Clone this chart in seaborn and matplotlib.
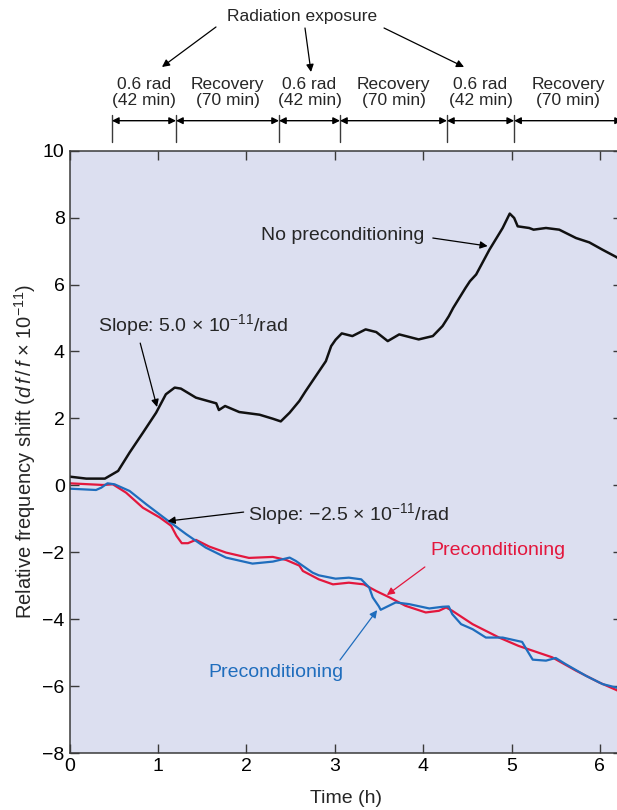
import numpy as np
import pandas as pd
import matplotlib
matplotlib.use("Agg")
import matplotlib.pyplot as plt
import matplotlib.transforms as mtransforms
import seaborn as sns

# ---------------- data ----------------
no_pre_t = [0.00, 0.19, 0.40, 0.55, 0.68, 0.83, 0.98, 1.09, 1.19, 1.26, 1.43, 1.66, 1.69,
            1.76, 1.92, 2.15, 2.30, 2.39, 2.49, 2.60, 2.67, 2.90, 2.96, 3.01, 3.08, 3.20,
            3.35, 3.47, 3.60, 3.73, 3.95, 4.11, 4.22, 4.29, 4.34, 4.48, 4.53, 4.60, 4.75,
            4.90, 4.98, 5.03, 5.07, 5.20, 5.25, 5.39, 5.54, 5.73, 5.88, 6.03, 6.18, 6.25]
no_pre_v = [0.26, 0.20, 0.20, 0.43, 0.98, 1.57, 2.17, 2.72, 2.92, 2.89, 2.62, 2.45, 2.25,
            2.37, 2.19, 2.11, 1.99, 1.91, 2.17, 2.52, 2.81, 3.71, 4.16, 4.35, 4.54, 4.46,
            4.66, 4.58, 4.31, 4.51, 4.36, 4.46, 4.76, 5.05, 5.30, 5.90, 6.10, 6.30, 7.04,
            7.69, 8.12, 7.99, 7.74, 7.69, 7.64, 7.69, 7.64, 7.39, 7.26, 7.04, 6.83, 6.72]

red_t = [0.00, 0.38, 0.49, 0.64, 0.83, 1.02, 1.15, 1.21, 1.27, 1.34, 1.43, 1.58, 1.77,
         2.03, 2.30, 2.45, 2.60, 2.64, 2.82, 2.98, 3.16, 3.33, 3.47, 3.62, 3.80, 4.03,
         4.18, 4.26, 4.33, 4.56, 4.86, 5.08, 5.46, 5.73, 5.99, 6.18, 6.25]
red_v = [0.06, 0.01, 0.03, -0.22, -0.67, -0.96, -1.21, -1.51, -1.73, -1.73, -1.63, -1.83, -2.01,
         -2.17, -2.14, -2.23, -2.40, -2.56, -2.81, -2.96, -2.91, -2.96, -3.16, -3.35, -3.60, -3.80,
         -3.75, -3.65, -3.75, -4.15, -4.55, -4.80, -5.14, -5.54, -5.89, -6.11, -6.20]

blue_t = [0.00, 0.30, 0.36, 0.43, 0.51, 0.68, 0.87, 1.09, 1.32, 1.54, 1.77, 2.07, 2.30,
          2.49, 2.56, 2.75, 2.82, 3.01, 3.16, 3.30, 3.39, 3.43, 3.50, 3.52, 3.69, 3.84,
          4.07, 4.22, 4.29, 4.33, 4.43, 4.56, 4.71, 4.90, 5.12, 5.18, 5.24, 5.39, 5.50,
          5.61, 5.84, 6.03, 6.18, 6.25]
blue_v = [-0.10, -0.14, -0.07, 0.06, 0.03, -0.17, -0.57, -1.01, -1.46, -1.86, -2.16, -2.34, -2.28,
          -2.16, -2.26, -2.61, -2.69, -2.79, -2.76, -2.81, -3.05, -3.35, -3.62, -3.72, -3.50, -3.55,
          -3.68, -3.63, -3.62, -3.85, -4.15, -4.30, -4.55, -4.55, -4.68, -4.95, -5.21, -5.24, -5.16,
          -5.34, -5.69, -5.94, -6.04, -6.10]

phase_bounds = [0.48, 1.205, 2.37, 3.06, 4.27, 5.03, 6.25]
phase_labels = ["0.6 rad\n(42 min)", "Recovery\n(70 min)", "0.6 rad\n(42 min)",
                "Recovery\n(70 min)", "0.6 rad\n(42 min)", "Recovery\n(70 min)"]
x_ticks = [0, 1, 2, 3, 4, 5, 6]
y_ticks = [-8, -6, -4, -2, 0, 2, 4, 6, 8, 10]

BLACK = "#111111"
RED = "#e3173d"
BLUE = "#1f6dbd"
BG = "#dcdff0"
AX = "#3a3a3a"

# ---------------- style ----------------
sns.set_theme(style="ticks")
plt.rcParams["font.family"] = ["Liberation Sans", "DejaVu Sans"]
plt.rcParams["mathtext.fontset"] = "custom"
plt.rcParams["mathtext.rm"] = "Liberation Sans"
plt.rcParams["mathtext.it"] = "Liberation Sans:italic"
plt.rcParams["mathtext.bf"] = "Liberation Sans:bold"
plt.rcParams["axes.unicode_minus"] = True

fig = plt.figure(figsize=(6.17, 8.10), dpi=100)
ax = fig.add_axes([69.5 / 617, 57 / 810, (622 - 69.5) / 617, (753 - 150.7) / 810])
ax.set_facecolor(BG)

df = pd.concat([
    pd.DataFrame({"t": no_pre_t, "v": no_pre_v, "s": "none"}),
    pd.DataFrame({"t": red_t, "v": red_v, "s": "red"}),
    pd.DataFrame({"t": blue_t, "v": blue_v, "s": "blue"}),
], ignore_index=True)

sns.lineplot(data=df, x="t", y="v", hue="s", palette={"none": BLACK, "red": RED, "blue": BLUE},
             estimator=None, sort=False, linewidth=1.6, legend=False, ax=ax)
for ln in ax.get_lines():
    ln.set_solid_joinstyle("round")
    ln.set_solid_capstyle("round")
    if ln.get_color() == BLACK:
        ln.set_linewidth(1.8)

ax.set_xlim(0, 6.25)
ax.set_ylim(-8, 10)
ax.set_xticks(x_ticks)
ax.set_yticks(y_ticks)
ax.set_xticklabels([str(v) for v in x_ticks])
ax.set_yticklabels([str(v).replace("-", "\u2212") for v in y_ticks])
ax.tick_params(direction="in", length=6.5, width=1.0, color=AX, labelsize=14,
               top=True, right=True, pad=3.5, labelcolor="black")
for sp in ax.spines.values():
    sp.set_color(AX)
    sp.set_linewidth(1.1)
    sp.set_visible(True)

ax.set_xlabel("Time (h)", fontsize=14, labelpad=11)
ax.set_ylabel("Relative frequency shift ($d\\,f\\,/\\,f$ \u00d7 10$^{-11}$)", fontsize=14.5,
              labelpad=3)

arrow_kw = dict(arrowstyle="-|>", lw=0.9, color="black", mutation_scale=11,
                shrinkA=0, shrinkB=0)

FS = 14
ax.text(4.02, 7.48, "No preconditioning", ha="right", va="center", fontsize=FS)
ax.annotate("", xy=(4.73, 7.15), xytext=(4.11, 7.39), arrowprops=arrow_kw)

ax.text(0.32, 4.79, "Slope: 5.0 \u00d7 10$^{-11}$/rad", ha="left", va="center", fontsize=FS)
ax.annotate("", xy=(0.99, 2.34), xytext=(0.80, 4.25), arrowprops=arrow_kw)

ax.text(2.02, -0.86, "Slope: \u22122.5 \u00d7 10$^{-11}$/rad", ha="left", va="center", fontsize=FS)
ax.annotate("", xy=(1.11, -1.07), xytext=(1.97, -0.80), arrowprops=arrow_kw)

ax.text(4.08, -1.96, "Preconditioning", ha="left", va="center", fontsize=FS, color=RED)
ax.annotate("", xy=(3.59, -3.28), xytext=(4.02, -2.44),
            arrowprops=dict(arrow_kw, color=RED))

ax.text(1.57, -5.58, "Preconditioning", ha="left", va="center", fontsize=FS, color=BLUE)
ax.annotate("", xy=(3.48, -3.73), xytext=(3.06, -5.22),
            arrowprops=dict(arrow_kw, color=BLUE))

# ---------------- top phase annotations ----------------
tr = mtransforms.blended_transform_factory(ax.transData, fig.transFigure)
fy = lambda px: 1 - px / 810.0

for b in phase_bounds[:-1]:
    ax.plot([b, b], [fy(115), fy(142)], transform=tr, color=AX, lw=1.0, clip_on=False)
for i, lab in enumerate(phase_labels):
    a, b = phase_bounds[i], phase_bounds[i + 1]
    ax.annotate("", xy=(b, fy(120.7)), xytext=(a, fy(120.7)), xycoords=tr, textcoords=tr,
                arrowprops=dict(arrowstyle="<|-|>", lw=1.0, color="black", mutation_scale=10,
                                shrinkA=0, shrinkB=0), annotation_clip=False)
    cx = (a + min(b, 6.25)) / 2
    ax.text(cx, fy(92.5), lab, transform=tr, ha="center", va="center", fontsize=12.5,
            linespacing=1.02, clip_on=False)

ax.text(2.63, fy(16), "Radiation exposure", transform=tr, ha="center", va="center",
        fontsize=12.5, clip_on=False)
for (x0, y0, x1, y1) in [(1.657, 27, 1.046, 67), (2.664, 28, 2.732, 72), (3.558, 28, 4.463, 67)]:
    ax.annotate("", xy=(x1, fy(y1)), xytext=(x0, fy(y0)), xycoords=tr, textcoords=tr,
                arrowprops=dict(arrow_kw), annotation_clip=False)

fig.savefig("out.png", dpi=100, facecolor="white")
